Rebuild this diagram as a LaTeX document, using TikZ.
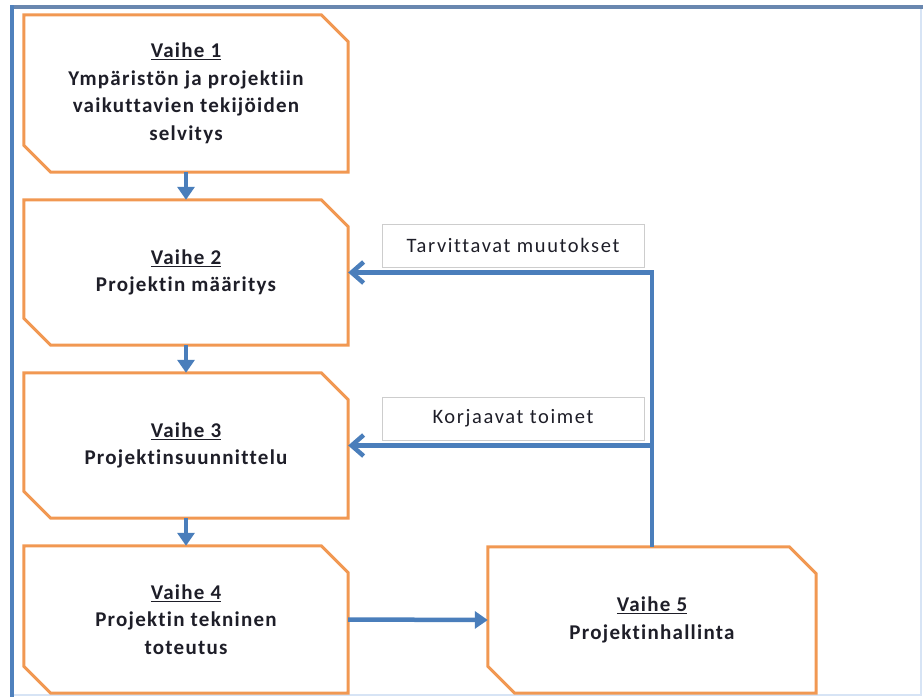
\documentclass[tikz,border=0pt]{standalone}
\usepackage{fontspec}
\setmainfont[Ligatures=NoCommon]{Carlito}
\usetikzlibrary{arrows.meta}
\definecolor{boxorange}{RGB}{241,152,82}
\definecolor{arrowblue}{RGB}{74,126,187}
\definecolor{framegray}{RGB}{105,135,175}
\definecolor{frameblue}{RGB}{79,129,189}
\definecolor{faintblue}{RGB}{215,228,245}
\definecolor{labelgray}{RGB}{205,205,205}
\definecolor{textdark}{RGB}{30,30,40}
\newcommand\chambox[1]{\draw[boxline] (#1.north west) -- ([xshift=-27pt]#1.north east) -- ([yshift=-27pt]#1.north east) -- (#1.south east) -- ([xshift=27pt]#1.south west) -- ([yshift=27pt]#1.south west) -- cycle;}
\begin{document}
\begin{tikzpicture}[x=1pt,y=-1pt,
  stage/.style={minimum width=324pt, minimum height=145pt, inner sep=0pt, align=center,
    font=\fontsize{21}{27.5}\selectfont\bfseries\addfontfeature{LetterSpace=6}, text=textdark},
  boxline/.style={draw=boxorange, line width=3pt, line join=miter},
  tag/.style={draw=labelgray, line width=1pt, minimum width=262pt, minimum height=43pt,
    inner sep=0pt, font=\fontsize{20.5}{24}\selectfont\addfontfeature{LetterSpace=8}, text=textdark},
  down/.style={draw=arrowblue, line width=4.5pt, -{Triangle[width=17pt,length=13pt]}},
  back/.style={draw=arrowblue, line width=4.5pt, -{Straight Barb[width=21pt,length=12pt]}}]
\useasboundingbox (0,0) rectangle (923,697);
% outer frame
\draw[faintblue, line width=1.5pt] (921,7) -- (921,695) -- (12,695);
\draw[framegray, line width=3.5pt] (10.25,7) -- (923,7);
\draw[frameblue, line width=3.5pt] (12,5.25) -- (12,697);
% stages
\node[stage, minimum height=157pt] (b1) at (186,93.5) {\underline{Vaihe 1}\\Ympäristön ja projektiin\\vaikuttavien tekijöiden\\selvitys};
\node[stage] (b2) at (186,272.5) {\underline{Vaihe 2}\\Projektin määritys};
\node[stage] (b3) at (186,445.5) {\underline{Vaihe 3}\\Projektinsuunnittelu};
\node[stage, minimum height=147pt] (b4) at (186,619.5) {\underline{Vaihe 4}\\Projektin tekninen\\toteutus};
\node[stage, minimum width=328pt, minimum height=146pt] (b5) at (652,620) {\underline{Vaihe 5}\\Projektinhallinta};
\chambox{b1}
\chambox{b2}
\chambox{b3}
\chambox{b4}
\chambox{b5}
% labels
\node[tag] (t1) at (513,245.5) {Tarvittavat muutokset};
\node[tag] (t2) at (513,418.5) {Korjaavat toimet};
% arrows
\draw[down] (b1.south) -- (b2.north);
\draw[down] (b2.south) -- (b3.north);
\draw[down] (b3.south) -- (b4.north);
\draw[down] (b4.east) -- (b5.west);
\draw[back] (b5.north) |- (b2.east);
\draw[back] (b5.north) |- (b3.east);
\end{tikzpicture}
\end{document}
